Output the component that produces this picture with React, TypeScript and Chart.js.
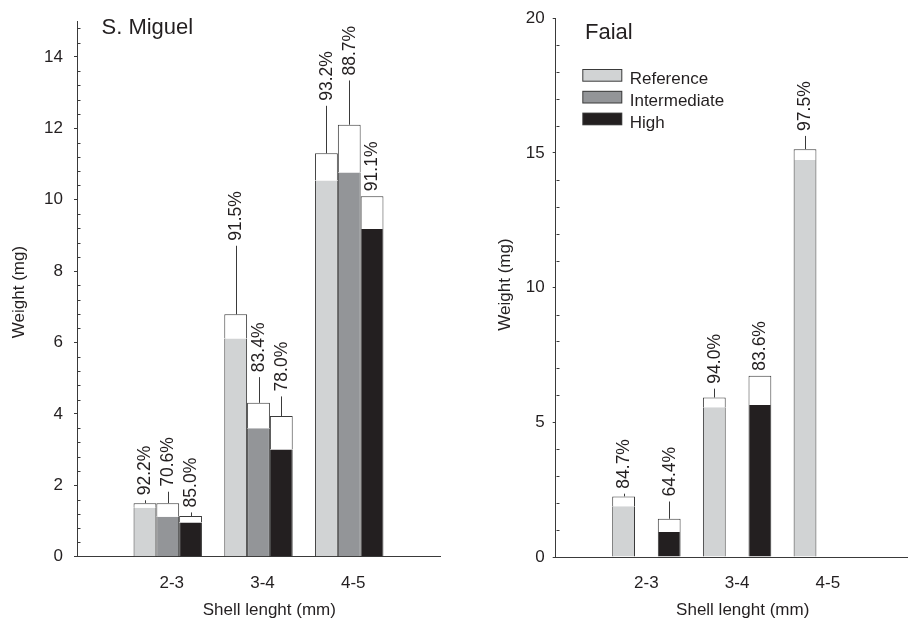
import React, { useEffect, useRef } from "react";
import { Chart, registerables } from "chart.js";

Chart.register(...registerables);

// ---------- shared ----------
const FONT = "'Liberation Sans', Arial, Helvetica, sans-serif";
const INK = "#231f20";
const EDGE = "#3a3a3a";

const CATEGORIES = ["2-3", "3-4", "4-5"];
const CATEGORY_POS = [1, 2, 3];
const SERIES = ["Reference", "Intermediate", "High"];
const SERIES_COLORS = ["#d1d3d4", "#939598", "#231f20"];

const X_TITLE = "Shell lenght (mm)";
const Y_TITLE = "Weight (mg)";

// ---------- S. Miguel ----------
const SM_TITLE = "S. Miguel";
const SM_Y_TICKS = [0, 2, 4, 6, 8, 10, 12, 14];
const SM_Y_MAX = 15;
const SM_MINOR_STEP = 0.4;

const SM_REF_TOTAL = [1.5, 6.79, 11.3];
const SM_REF_FILL = [1.37, 6.11, 10.54];
const SM_REF_ERR = [1.58, 8.71, 12.63];
const SM_REF_PCT = ["92.2%", "91.5%", "93.2%"];

const SM_INT_TOTAL = [1.5, 4.31, 12.1];
const SM_INT_FILL = [1.12, 3.6, 10.76];
const SM_INT_ERR = [1.82, 5.03, 13.34];
const SM_INT_PCT = ["70.6%", "83.4%", "88.7%"];

const SM_HIGH_TOTAL = [1.14, 3.94, 10.1];
const SM_HIGH_FILL = [0.96, 3.0, 9.18];
const SM_HIGH_ERR = [1.24, 4.49, 10.1];
const SM_HIGH_PCT = ["85.0%", "78.0%", "91.1%"];

// ---------- Faial ----------
const FA_TITLE = "Faial";
const FA_Y_TICKS = [0, 5, 10, 15, 20];
const FA_Y_MAX = 20;
const FA_MINOR_STEP = 1;

const FA_REF_TOTAL = [2.25, 5.92, 15.14];
const FA_REF_FILL = [1.88, 5.56, 14.74];
const FA_REF_ERR = [2.35, 6.25, 15.63];
const FA_REF_PCT = ["84.7%", "94.0%", "97.5%"];

const FA_INT_TOTAL = [null, null, null];
const FA_INT_FILL = [null, null, null];
const FA_INT_ERR = [null, null, null];
const FA_INT_PCT = [null, null, null];

const FA_HIGH_TOTAL = [1.42, 6.73, null];
const FA_HIGH_FILL = [0.93, 5.64, null];
const FA_HIGH_ERR = [2.06, 6.73, null];
const FA_HIGH_PCT = ["64.4%", "83.6%", null];

type Num = number | null;

type Panel = {
  title: string;
  titlePos: [number, number];
  yTicks: number[];
  yMax: number;
  minorStep: number;
  xMax: number;
  totals: Num[][];
  fills: Num[][];
  errs: Num[][];
  pcts: (string | null)[][];
  padTop: number;
  padRight: number;
  yAxisWidth: number;
  xAxisHeight: number;
  yTickPadding: number;
  xLabelOffset: number;
  yTitlePos: [number, number];
  xTitlePos: [number, number];
  legend: boolean;
};

const SM_PANEL: Panel = {
  title: SM_TITLE,
  titlePos: [101.5, 33.5],
  yTicks: SM_Y_TICKS,
  yMax: SM_Y_MAX,
  minorStep: SM_MINOR_STEP,
  xMax: 4,
  totals: [SM_REF_TOTAL, SM_INT_TOTAL, SM_HIGH_TOTAL],
  fills: [SM_REF_FILL, SM_INT_FILL, SM_HIGH_FILL],
  errs: [SM_REF_ERR, SM_INT_ERR, SM_HIGH_ERR],
  pcts: [SM_REF_PCT, SM_INT_PCT, SM_HIGH_PCT],
  padTop: 11.5,
  padRight: 14,
  yAxisWidth: 77,
  xAxisHeight: 67.3,
  yTickPadding: 11,
  xLabelOffset: 4,
  yTitlePos: [19, 292],
  xTitlePos: [269.3, 610],
  legend: false,
};

const FA_PANEL: Panel = {
  title: FA_TITLE,
  titlePos: [131, 39.3],
  yTicks: FA_Y_TICKS,
  yMax: FA_Y_MAX,
  minorStep: FA_MINOR_STEP,
  xMax: 3.884,
  totals: [FA_REF_TOTAL, FA_INT_TOTAL, FA_HIGH_TOTAL],
  fills: [FA_REF_FILL, FA_INT_FILL, FA_HIGH_FILL],
  errs: [FA_REF_ERR, FA_INT_ERR, FA_HIGH_ERR],
  pcts: [FA_REF_PCT, FA_INT_PCT, FA_HIGH_PCT],
  padTop: 14,
  padRight: 0,
  yAxisWidth: 101.7,
  xAxisHeight: 67,
  yTickPadding: 8,
  xLabelOffset: 0,
  yTitlePos: [51, 284.5],
  xTitlePos: [288.7, 610],
  legend: true,
};

function buildConfig(p: Panel): any {
  const datasets: any[] = [];
  SERIES.forEach((name, s) => {
    const common = {
      stack: name,
      borderColor: EDGE,
      borderSkipped: false,
      inflateAmount: 0,
      categoryPercentage: 0.754,
      barPercentage: 1,
    };
    datasets.push({
      ...common,
      label: name,
      data: p.fills[s],
      backgroundColor: SERIES_COLORS[s],
      borderWidth: { top: 0, left: 1, right: 1, bottom: 0 },
    });
    datasets.push({
      ...common,
      label: name + " (total)",
      data: p.fills[s].map((f, i) => {
        const t = p.totals[s][i];
        return f == null || t == null ? null : [f, t];
      }),
      backgroundColor: "#ffffff",
      borderWidth: { top: 1, left: 1, right: 1, bottom: 0 },
    });
  });

  const decor = {
    id: "decor" + p.title,
    afterDatasetsDraw(chart: any) {
      const ctx = chart.ctx as CanvasRenderingContext2D;
      const y = chart.scales.y;
      const area = chart.chartArea;
      ctx.save();
      // minor ticks (inside)
      ctx.strokeStyle = EDGE;
      ctx.lineWidth = 1;
      ctx.beginPath();
      const ax = Math.round(area.left) + 0.5;
      for (let i = 0; i * p.minorStep <= p.yMax + 1e-9; i++) {
        const v = i * p.minorStep;
        if (p.yTicks.some((t) => Math.abs(t - v) < 1e-6)) continue;
        const py = Math.round(y.getPixelForValue(v)) + 0.5;
        ctx.moveTo(ax, py);
        ctx.lineTo(ax + 3, py);
      }
      ctx.stroke();

      // whiskers + percent labels
      SERIES.forEach((_, s) => {
        const meta = chart.getDatasetMeta(2 * s + 1);
        p.totals[s].forEach((t, i) => {
          const e = p.errs[s][i];
          const label = p.pcts[s][i];
          if (t == null || e == null) return;
          const bar = meta.data[i];
          if (!bar) return;
          const x = Math.round(bar.x) + 0.5;
          const yTop = y.getPixelForValue(t);
          const yErr = y.getPixelForValue(e);
          if (yTop - yErr > 0.5) {
            ctx.strokeStyle = EDGE;
            ctx.lineWidth = 1;
            ctx.beginPath();
            ctx.moveTo(x, yTop);
            ctx.lineTo(x, yErr);
            ctx.stroke();
          }
          if (label) {
            ctx.save();
            ctx.translate(bar.x + 0.5, yErr - 5);
            ctx.rotate(-Math.PI / 2);
            ctx.fillStyle = INK;
            ctx.font = `17.5px ${FONT}`;
            ctx.textAlign = "left";
            ctx.textBaseline = "middle";
            ctx.fillText(label, 0, 0);
            ctx.restore();
          }
        });
      });
      ctx.restore();
    },
    afterDraw(chart: any) {
      const ctx = chart.ctx as CanvasRenderingContext2D;
      ctx.save();
      ctx.fillStyle = INK;
      // panel title
      ctx.font = `22px ${FONT}`;
      ctx.textAlign = "left";
      ctx.textBaseline = "alphabetic";
      ctx.fillText(p.title, p.titlePos[0], p.titlePos[1]);
      // axis titles
      ctx.font = `17px ${FONT}`;
      ctx.textAlign = "center";
      ctx.textBaseline = "middle";
      ctx.fillText(X_TITLE, p.xTitlePos[0], p.xTitlePos[1]);
      ctx.save();
      ctx.translate(p.yTitlePos[0], p.yTitlePos[1]);
      ctx.rotate(-Math.PI / 2);
      ctx.fillText(Y_TITLE, 0, 0);
      ctx.restore();
      // legend
      if (p.legend) {
        SERIES.forEach((name, s) => {
          const top = 69 + s * 21.8;
          ctx.fillStyle = EDGE;
          ctx.fillRect(128.3, top, 40, 12.7);
          ctx.fillStyle = SERIES_COLORS[s];
          ctx.fillRect(129.3, top + 1, 38, 10.7);
          ctx.fillStyle = INK;
          ctx.font = `17px ${FONT}`;
          ctx.textAlign = "left";
          ctx.textBaseline = "alphabetic";
          ctx.fillText(name, 175.7, top + 15.3);
        });
      }
      ctx.restore();
    },
  };

  return {
    type: "bar",
    data: { labels: CATEGORY_POS, datasets },
    options: {
      responsive: false,
      animation: false,
      devicePixelRatio: 1,
      layout: { padding: { left: 0, right: p.padRight, top: p.padTop, bottom: 0 } },
      plugins: { legend: { display: false }, tooltip: { enabled: false } },
      scales: {
        x: {
          type: "linear",
          min: 0,
          max: p.xMax,
          offset: false,
          bounds: "data",
          afterBuildTicks: (sc: any) => {
            sc.ticks = CATEGORY_POS.map((v) => ({ value: v }));
          },
          afterFit: (sc: any) => {
            sc.height = p.xAxisHeight;
          },
          grid: { display: false, drawTicks: false, offset: false },
          border: { display: true, color: EDGE, width: 1 },
          ticks: {
            callback: (v: number) => {
              const k = CATEGORY_POS.indexOf(v);
              return k >= 0 ? CATEGORIES[k] : "";
            },
            font: { family: FONT, size: 17 },
            color: INK,
            padding: 16,
            labelOffset: p.xLabelOffset,
            maxRotation: 0,
            autoSkip: false,
          },
        },
        y: {
          type: "linear",
          min: 0,
          max: p.yMax,
          stacked: false,
          bounds: "data",
          afterBuildTicks: (sc: any) => {
            sc.ticks = p.yTicks.map((v) => ({ value: v }));
          },
          afterFit: (sc: any) => {
            sc.width = p.yAxisWidth;
          },
          grid: {
            display: true,
            drawOnChartArea: false,
            drawTicks: true,
            tickLength: 3,
            color: EDGE,
            lineWidth: 1,
          },
          border: { display: true, color: EDGE, width: 1 },
          ticks: {
            font: { family: FONT, size: 17 },
            color: INK,
            padding: p.yTickPadding,
            callback: (v: number) => String(v),
          },
        },
      },
    },
    plugins: [decor],
  };
}

function PanelChart({ panel, left }: { panel: Panel; left: number }) {
  const ref = useRef<HTMLCanvasElement>(null);
  useEffect(() => {
    const chart = new Chart(ref.current as HTMLCanvasElement, buildConfig(panel));
    return () => chart.destroy();
  }, [panel]);
  return (
    <canvas
      ref={ref}
      width={454}
      height={624}
      style={{ position: "absolute", left, top: 0, width: 454, height: 624 }}
    />
  );
}

export default function App() {
  return (
    <div
      style={{
        position: "fixed",
        left: 0,
        top: 0,
        width: 908,
        height: 624,
        background: "#ffffff",
        overflow: "hidden",
      }}
    >
      <PanelChart panel={SM_PANEL} left={0} />
      <PanelChart panel={FA_PANEL} left={454} />
    </div>
  );
}
